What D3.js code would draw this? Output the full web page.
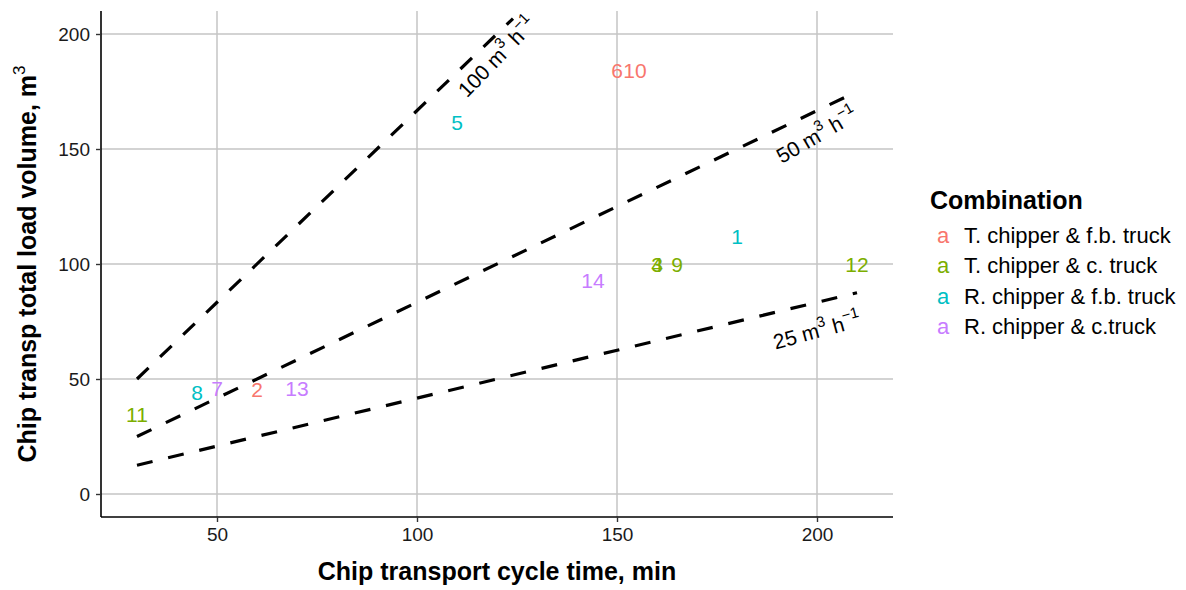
<!DOCTYPE html>
<html>
<head>
<meta charset="utf-8">
<script src="https://cdn.jsdelivr.net/npm/d3@7"></script>
<style>
  body { margin: 0; background: #fff; }
  text { font-family: "Liberation Sans", Arial, sans-serif; }
</style>
</head>
<body>
<script>
// chart data
var ids = ["1","2","3","4","5","6","7","8","9","10","11","12","13","14"];
var cycleTime = [180, 60, 160, 160, 110, 150, 50, 45, 165, 154.5, 30, 210, 70, 144];
var loadVolume = [112, 45.5, 100, 100, 161.5, 184, 46, 44, 100, 184, 34.5, 100, 46, 93];
var combo = [2, 0, 1, 1, 2, 0, 3, 2, 1, 0, 1, 1, 3, 3];
var comboNames = ["T. chipper & f.b. truck", "T. chipper & c. truck", "R. chipper & f.b. truck", "R. chipper & c.truck"];
var comboColors = ["#F8766D", "#7CAE00", "#00BFC4", "#C77CFF"];

// productivity reference lines (m3 per hour)
var rateNames = ["100", "50", "25"];
var rateTimes = [[30, 124], [30, 210], [30, 210]];
var rateVolumes = [[50, 206.7], [25, 175], [12.5, 87.5]];
var rateLabelAt = [[120, 190], [200, 156], [200, 71]];
var rateLabelAngle = [46, 30, 15];

var xTicks = [50, 100, 150, 200];
var yTicks = [0, 50, 100, 150, 200];

var width = 1186, height = 590;
var pLeft = 101, pRight = 893, pTop = 11, pBottom = 517;

var svg = d3.select("body").append("svg")
  .attr("width", width)
  .attr("height", height);

var x = d3.scaleLinear().domain([21, 219]).range([pLeft, pRight]);
var y = d3.scaleLinear().domain([-10, 210]).range([pBottom, pTop]);

svg.append("clipPath").attr("id", "panel")
  .append("rect").attr("x", pLeft).attr("y", pTop)
  .attr("width", pRight - pLeft).attr("height", pBottom - pTop);

// grid
svg.append("g").selectAll("line").data(xTicks).enter().append("line")
  .attr("x1", d => x(d)).attr("x2", d => x(d))
  .attr("y1", pTop).attr("y2", pBottom)
  .attr("stroke", "#c4c4c4").attr("stroke-width", 1.5);
svg.append("g").selectAll("line").data(yTicks).enter().append("line")
  .attr("y1", d => y(d)).attr("y2", d => y(d))
  .attr("x1", pLeft).attr("x2", pRight)
  .attr("stroke", "#c4c4c4").attr("stroke-width", 1.5);

// dashed productivity lines
var lineGen = d3.line().x(d => x(d[0])).y(d => y(d[1]));
var lines = svg.append("g").attr("clip-path", "url(#panel)");
rateNames.forEach(function(r, i) {
  var pts = rateTimes[i].map((t, k) => [t, rateVolumes[i][k]]);
  lines.append("path")
    .attr("d", lineGen(pts))
    .attr("fill", "none")
    .attr("stroke", "#000")
    .attr("stroke-width", 3.2)
    .attr("stroke-dasharray", "16,16");
});

// line labels
rateNames.forEach(function(r, i) {
  var p = rateLabelAt[i];
  var t = svg.append("text")
    .attr("transform", "translate(" + x(p[0]) + "," + y(p[1]) + ") rotate(" + (-rateLabelAngle[i]) + ")")
    .attr("text-anchor", "middle")
    .attr("dy", "0.35em")
    .attr("font-size", 21)
    .attr("fill", "#000");
  t.append("tspan").text(r + " m");
  t.append("tspan").attr("dy", -10).attr("font-size", 15).text("3");
  t.append("tspan").attr("dy", 10).text(" h");
  t.append("tspan").attr("dy", -10).attr("font-size", 15).text("\u22121");
});

// point labels
svg.append("g").selectAll("text").data(ids).enter().append("text")
  .attr("x", (d, i) => x(cycleTime[i]))
  .attr("y", (d, i) => y(loadVolume[i]))
  .attr("dy", "0.36em")
  .attr("text-anchor", "middle")
  .attr("font-size", 21)
  .attr("fill", (d, i) => comboColors[combo[i]])
  .text(d => d);

// axes
var xAxis = svg.append("g").attr("transform", "translate(0," + pBottom + ")")
  .call(d3.axisBottom(x).tickValues(xTicks).tickSize(5).tickPadding(6));
var yAxis = svg.append("g").attr("transform", "translate(" + pLeft + ",0)")
  .call(d3.axisLeft(y).tickValues(yTicks).tickSize(5).tickPadding(6));
[xAxis, yAxis].forEach(function(a) {
  a.select(".domain").attr("stroke", "#000").attr("stroke-width", 1.6);
  a.selectAll(".tick line").attr("stroke", "#333").attr("stroke-width", 1.4);
  a.selectAll(".tick text").attr("font-size", 19).attr("fill", "#1a1a1a")
    .attr("font-family", "Liberation Sans, Arial, sans-serif");
});
xAxis.select(".domain").attr("d", "M" + pLeft + ",0H" + pRight);
yAxis.select(".domain").attr("d", "M0," + pTop + "V" + pBottom);

// axis titles
svg.append("text")
  .attr("x", (pLeft + pRight) / 2).attr("y", 580)
  .attr("text-anchor", "middle")
  .attr("font-size", 25).attr("font-weight", "bold")
  .text("Chip transport cycle time, min");

var yt = svg.append("text")
  .attr("transform", "translate(36," + ((pTop + pBottom) / 2) + ") rotate(-90)")
  .attr("text-anchor", "middle")
  .attr("font-size", 25).attr("font-weight", "bold");
yt.append("tspan").text("Chip transp total load volume,  m");
yt.append("tspan").attr("dy", -11).attr("font-size", 17).attr("font-weight", "normal").text("3");

// legend
var legend = svg.append("g").attr("transform", "translate(930,0)");
legend.append("text").attr("x", 0).attr("y", 209)
  .attr("font-size", 25).attr("font-weight", "bold").text("Combination");
var items = legend.selectAll("g.item").data(comboNames).enter().append("g")
  .attr("transform", (d, i) => "translate(0," + (235 + i * 30.5) + ")");
items.append("text").attr("x", 13).attr("dy", "0.36em")
  .attr("text-anchor", "middle").attr("font-size", 22)
  .attr("fill", (d, i) => comboColors[i]).text("a");
items.append("text").attr("x", 34).attr("dy", "0.36em")
  .attr("font-size", 22).attr("fill", "#000").text(d => d);
</script>
</body>
</html>
